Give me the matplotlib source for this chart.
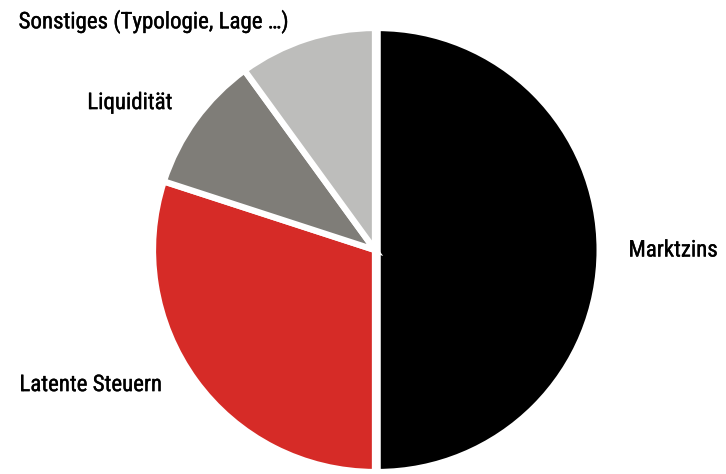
import matplotlib.pyplot as plt
import matplotlib.patheffects as pe
from matplotlib import font_manager

# Anteile an der Wertänderung (geschätzt aus dem Bild)
kategorien = ["Marktzins", "Latente Steuern", "Liquidität", "Sonstiges (Typologie, Lage …)"]
anteile = [50, 30, 10, 10]
farben = ["#000000", "#d62b27", "#7f7d78", "#bdbdbb"]

namen = {f.name for f in font_manager.fontManager.ttflist}
schrift = "Roboto"
for kandidat in ["Roboto Condensed", "Liberation Sans Narrow"]:
    if kandidat in namen:
        schrift = kandidat
        break
plt.rcParams["font.family"] = [schrift, "DejaVu Sans"]

fig = plt.figure(figsize=(7.26, 4.74), dpi=100)
ax = fig.add_axes([0.2107, 0.0042, 0.6116, 0.9367])

wedges, texte = ax.pie(
    anteile,
    labels=kategorien,
    colors=farben,
    startangle=90,
    counterclock=False,
    labeldistance=1.13,
    explode=[0.012, 0, 0, 0],
    wedgeprops={"edgecolor": "white", "linewidth": 4.5},
    textprops={"fontsize": 16.5, "color": "black"},
)

# Beschriftungen leicht nachrücken wie im Original, etwas kräftiger
verschiebung = [(0, 0), (-0.045, 0.058), (0, 0), (-0.04, -0.045)]
for t, (dx, dy) in zip(texte, verschiebung):
    x, y = t.get_position()
    t.set_position((x + dx, y + dy))
    t.set_path_effects([pe.withStroke(linewidth=0.25, foreground="black")])

ax.set_xlim(-1, 1)
ax.set_ylim(-1, 1)
ax.set_aspect("equal")

fig.savefig("out.png", dpi=100)
